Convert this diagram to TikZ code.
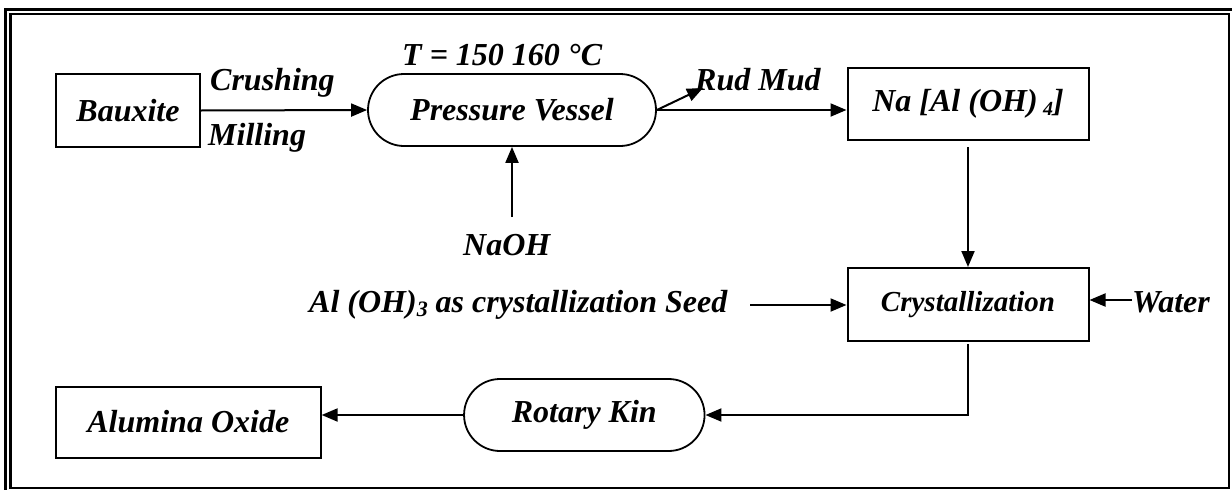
\documentclass[tikz,border=0pt]{standalone}
\usepackage{fontspec}
\setmainfont{Liberation Serif}
\usetikzlibrary{arrows.meta}
\begin{document}
\begin{tikzpicture}[x=1pt,y=-1pt,
  every node/.style={font=\fontsize{32}{36}\selectfont\bfseries\itshape, inner sep=0pt},
  boxnode/.style={draw, line width=2pt, rectangle},
  stadium/.style={draw, line width=1.8pt, rectangle, rounded corners=36pt},
  lbl/.style={anchor=base west},
  flow/.style={line width=2pt, -{Triangle[length=16pt,width=13pt]}},
  plain/.style={line width=2pt}
]
\useasboundingbox (0,0) rectangle (1232,490);
% frame
\draw[line width=3pt] (5.3,495) -- (5.3,9.3) -- (1240,9.3);
\draw[line width=2.2pt] (10.5,14.3) rectangle (1229,488);
% nodes
\node[boxnode, minimum width=144pt, minimum height=73pt] (baux) at (128,110.5) {Bauxite};
\node[stadium, minimum width=288pt, minimum height=72pt] (pv) at (512,110) {Pressure Vessel};
\node[boxnode, minimum width=241pt, minimum height=72pt] (na) at (968,104) {Na [Al (OH)\,\raisebox{-0.25ex}{\fontsize{20}{22}\selectfont 4}]};
\node[boxnode, minimum width=241pt, minimum height=73pt, font=\fontsize{29}{32}\selectfont\bfseries\itshape] (cry) at (968,304.5) {Crystallization};
\node[stadium, minimum width=240.5pt, minimum height=72pt] (rk) at (584.3,415) {Rotary Kin};
\node[boxnode, minimum width=264.7pt, minimum height=71pt] (alu) at (188.3,422) {Alumina Oxide};
% labels
\node[lbl] (crush) at (210,90) {Crushing};
\node[lbl] (mill) at (208,145) {Milling};
\node[lbl] (temp) at (402,65) {T = 150 160 °C};
\node[lbl] (rud) at (695,90) {Rud Mud};
\node[lbl] (naoh) at (463,255) {NaOH};
\node[lbl] (seed) at (309,312) {Al (OH)\raisebox{-0.3ex}{\fontsize{22}{24}\selectfont 3} as crystallization Seed};
\node[lbl] (water) at (1132,312) {Water};
% free ends
\coordinate (rudtip) at (703,88);
\coordinate (naohtop) at (512,217);
\coordinate (seedstart) at (750,305);
\coordinate (waterstart) at (1132,300);
% connectors
\draw[flow] (baux.east) -- (pv.west);
\draw[flow] (pv.east) -- (rudtip);
\draw[flow] (pv.east) -- (pv.east -| na.west);
\draw[flow] (naohtop) -- (pv.south);
\draw[flow, shorten <=6pt] (na.south) -- (cry.north);
\draw[flow] (seedstart) -- (seedstart -| cry.west);
\draw[flow] (waterstart) -- (waterstart -| cry.east);
\draw[flow, shorten <=2pt] (cry.south) |- (rk.east);
\draw[flow] (rk.west) -- (rk.west -| alu.east);
\end{tikzpicture}
\end{document}
